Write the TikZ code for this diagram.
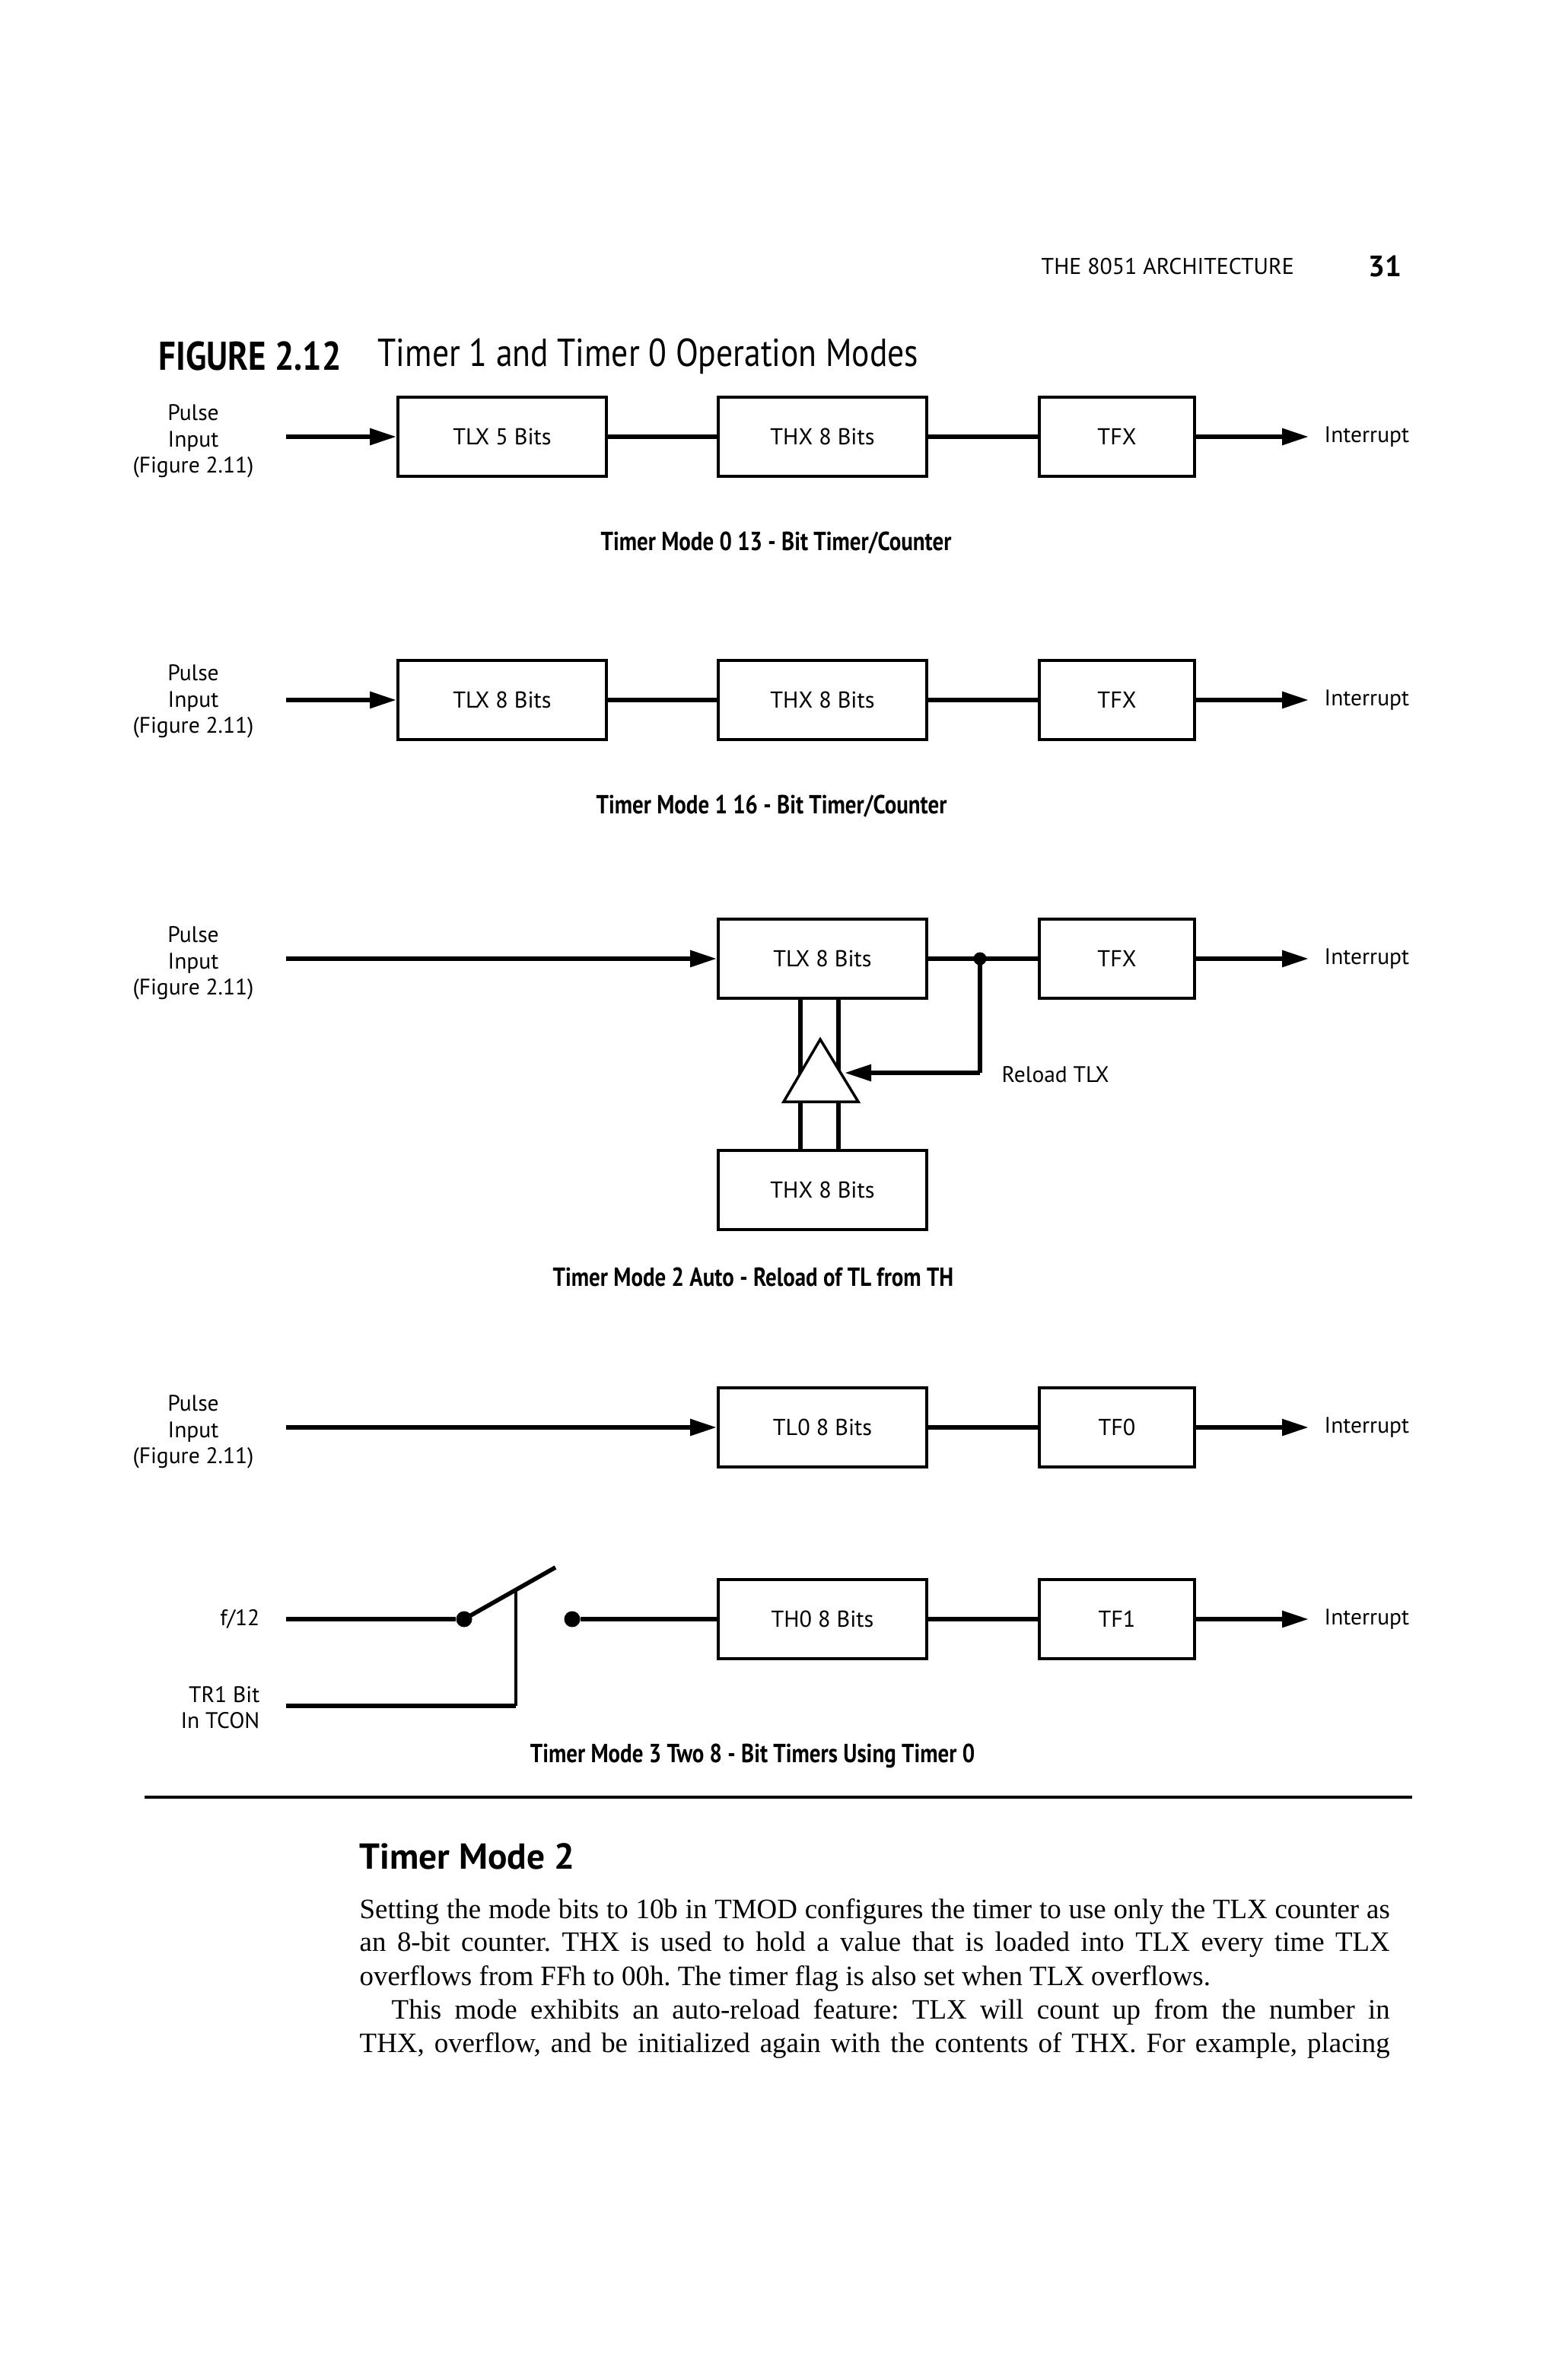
\documentclass[tikz,border=0pt]{standalone}
\usepackage{fontspec}
\setmainfont{Liberation Serif}
\newfontfamily\lab{PT Sans}
\newfontfamily\labn[FakeStretch=0.85]{PT Sans}
\newfontfamily\capf[FakeStretch=0.84]{PT Sans}
\usetikzlibrary{arrows.meta}
\frenchspacing
\begin{document}
\begin{tikzpicture}[x=0.2mm,y=-0.2mm,
  box/.style={draw, line width=1.1pt, minimum width=27.4mm, minimum height=10.4mm, inner sep=0pt, font=\lab\fontsize{8.6}{10}\selectfont},
  flag/.style={box, minimum width=20.4mm},
  conn/.style={line width=1.7pt},
  bus/.style={line width=1.6pt},
  arr/.style={conn, -{Triangle[length=3.5mm,width=2.1mm]}},
  lbl/.style={font=\lab\fontsize{8.4}{9.8}\selectfont, inner sep=0pt},
  captxt/.style={font=\capf\bfseries\fontsize{9.8}{11}\selectfont, inner sep=0pt},
  dot/.style={circle, fill, inner sep=0pt, minimum size=2.1mm},
  body/.style={font=\fontsize{10.5}{12.5}\selectfont, inner sep=0pt, anchor=west},
]
\useasboundingbox (0,0) rectangle (1024,1564);

% header
\node[font=\lab\fontsize{8.5}{10}\selectfont, inner sep=0pt, anchor=west] (hdr) at (684,175) {THE 8051 ARCHITECTURE};
\node[font=\lab\bfseries\fontsize{11}{13}\selectfont, inner sep=0pt, anchor=west] (pg) at (899,175) {31};
\node[font=\labn\bfseries\fontsize{15}{17}\selectfont, inner sep=0pt, anchor=west] (fig) at (104,234) {FIGURE 2.12};
\node[font=\labn\fontsize{14.6}{17}\selectfont, inner sep=0pt, anchor=west] (figt) at (248,234) {Timer 1 and Timer 0 Operation Modes};

% Mode 0
\node[lbl, align=center] (p0) at (127,290) {Pulse\\Input\\(Figure 2.11)};
\coordinate (s0) at (188,287);
\node[box] (a0) at (330,287) {TLX 5 Bits};
\node[box] (b0) at (540.5,287) {THX 8 Bits};
\node[flag] (c0) at (734,287) {TFX};
\node[lbl, anchor=west] (i0) at (870,287) {Interrupt};
\draw[arr] (s0) -- (a0.west);
\draw[conn] (a0) -- (b0);
\draw[conn] (b0) -- (c0);
\draw[arr] (c0.east) -- ([xshift=-2mm]i0.west);
\node[captxt] (t0) at (510,357) {Timer Mode 0 13 - Bit Timer/Counter};

% Mode 1
\node[lbl, align=center] (p1) at (127,461) {Pulse\\Input\\(Figure 2.11)};
\coordinate (s1) at (188,460);
\node[box] (a1) at (330,460) {TLX 8 Bits};
\node[box] (b1) at (540.5,460) {THX 8 Bits};
\node[flag] (c1) at (734,460) {TFX};
\node[lbl, anchor=west] (i1) at (870,460) {Interrupt};
\draw[arr] (s1) -- (a1.west);
\draw[conn] (a1) -- (b1);
\draw[conn] (b1) -- (c1);
\draw[arr] (c1.east) -- ([xshift=-2mm]i1.west);
\node[captxt] (t1) at (507,530) {Timer Mode 1 16 - Bit Timer/Counter};

% Mode 2
\node[lbl, align=center] (p2) at (127,633) {Pulse\\Input\\(Figure 2.11)};
\coordinate (s2) at (188,630);
\node[box] (a2) at (540.5,630) {TLX 8 Bits};
\node[flag] (c2) at (734,630) {TFX};
\node[box] (b2) at (540.5,782) {THX 8 Bits};
\node[lbl, anchor=west] (i2) at (870,630) {Interrupt};
\draw[arr] (s2) -- (a2.west);
\node[dot, minimum size=1.7mm] (j2) at (644,630) {};
\draw[conn] (a2) -- (c2);
\draw[arr] (c2.east) -- ([xshift=-2mm]i2.west);
\draw[bus] (a2.south -| 526,0) -- (b2.north -| 526,0);
\draw[bus] (a2.south -| 551,0) -- (b2.north -| 551,0);
\draw[line width=1pt, fill=white] (539,683) -- (564,724) -- (515,724) -- cycle;
\coordinate (r2) at (644,705);
\coordinate (rt) at (555,705);
\draw[conn] (j2.center) -- (r2);
\draw[arr] (r2) -- (rt);
\node[lbl, anchor=west] (rl) at (658,706) {Reload TLX};
\node[captxt] (t2) at (495,839) {Timer Mode 2 Auto - Reload of TL from TH};

% Mode 3
\node[lbl, align=center] (p3) at (127,941) {Pulse\\Input\\(Figure 2.11)};
\coordinate (s3) at (188,938);
\node[box] (a3) at (540.5,938) {TL0 8 Bits};
\node[flag] (c3) at (734,938) {TF0};
\node[lbl, anchor=west] (i3) at (870,938) {Interrupt};
\draw[arr] (s3) -- (a3.west);
\draw[conn] (a3) -- (c3);
\draw[arr] (c3.east) -- ([xshift=-2mm]i3.west);

\node[box] (a4) at (540.5,1064) {TH0 8 Bits};
\node[flag] (c4) at (734,1064) {TF1};
\node[lbl, anchor=west] (i4) at (870,1064) {Interrupt};
\draw[conn] (a4) -- (c4);
\draw[arr] (c4.east) -- ([xshift=-2mm]i4.west);
\node[lbl, anchor=east] (f12) at (171,1064) {f/12};
\node[lbl, anchor=east, align=right] (trb) at (171,1122) {TR1 Bit\\In TCON};
\coordinate (f12s) at (188,1064);
\node[dot] (d1) at (305,1064) {};
\node[dot] (d2) at (376,1064) {};
\coordinate (sw) at (365,1030);
\coordinate (swj) at (339,1045);
\coordinate (trs) at (188,1121);
\coordinate (trc) at (339,1121);
\draw[conn] (f12s) -- (d1);
\draw[line width=1.6pt] (d1.center) -- (sw);
\draw[line width=1.3pt] (swj) -- (trc);
\draw[conn] (trs) -- (trc);
\draw[conn] (d2) -- (a4.west);
\node[captxt] (t3) at (494.5,1154) {Timer Mode 3 Two 8 - Bit Timers Using Timer 0};

% rule
\coordinate (rl0) at (95,1181);
\coordinate (rl1) at (928,1181);
\draw[line width=0.9pt] (rl0) -- (rl1);

% text
\node[font=\lab\bfseries\fontsize{13.5}{16}\selectfont, inner sep=0pt, anchor=west] (hd) at (236,1220) {Timer Mode 2};
\node[body] (l1) at (236,1256) {\makebox[135.4mm][s]{Setting the mode bits to 10b in TMOD configures the timer to use only the TLX counter as}};
\node[body] (l2) at (236,1278) {\makebox[135.4mm][s]{an 8-bit counter. THX is used to hold a value that is loaded into TLX every time TLX}};
\node[body] (l3) at (236,1300) {overflows from FFh to 00h. The timer flag is also set when TLX overflows.};
\node[body] (l4) at (257,1322) {\makebox[131.2mm][s]{This mode exhibits an auto-reload feature: TLX will count up from the number in}};
\node[body] (l5) at (236,1344) {\makebox[135.4mm][s]{THX, overflow, and be initialized again with the contents of THX. For example, placing}};
\end{tikzpicture}
\end{document}
